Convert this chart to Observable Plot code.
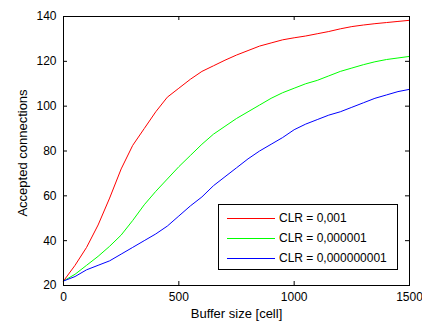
<!DOCTYPE html>
<html><head><meta charset="utf-8">
<script src="https://cdn.jsdelivr.net/npm/d3@7"></script>
<script src="https://cdn.jsdelivr.net/npm/@observablehq/plot@0.6"></script>
<style>
body{margin:0;background:#fff;font-family:"Liberation Sans",Arial,sans-serif;}
#wrap{position:relative;width:422px;height:322px;}
#legend{position:absolute;left:218px;top:204px;width:180px;height:66px;border:1px solid #000;background:#fff;box-sizing:border-box;font-size:12px;}
.item{position:absolute;left:0;height:14px;}
.item .ln{position:absolute;left:8px;width:48px;top:7px;height:1px;}
.item .tx{position:absolute;left:60px;top:0;white-space:nowrap;line-height:14px;color:#000;}
</style></head>
<body><div id="wrap"><div id="chart"></div><div id="legend"></div></div>
<script>
const bufferSize = [0,50,100,150,200,250,300,350,400,450,500,550,600,650,700,750,800,850,900,950,1000,1050,1100,1150,1200,1250,1300,1350,1400,1450,1500];
const clrRed   = [22,29,37,47,59,72,82.5,90,97.5,104,108,112,115.5,118,120.5,122.8,124.8,126.8,128.2,129.6,130.5,131.3,132.3,133.3,134.5,135.5,136.2,136.8,137.3,137.8,138.3];
const clrGreen = [22,25,29,33,37.5,42.5,49,56,62,67.5,73,78,83,87.5,91,94.5,97.5,100.5,103.5,106,108,110,111.5,113.5,115.5,117,118.5,119.8,120.8,121.5,122.2];
const clrBlue  = [22,24,27,29,31,34,37,40,43,46.5,51,55.5,59.5,64.5,68.5,72.5,76.5,80,83,86,89.5,92,94,96,97.5,99.5,101.5,103.5,105,106.5,107.5];
const seriesNames = ["CLR = 0,001","CLR = 0,000001","CLR = 0,000000001"];
const seriesColors = ["#ff0000","#00ff00","#0000ff"];
const xTicks = [0,500,1000,1500];
const yTicks = [20,40,60,80,100,120,140];

const allSeries = [clrRed, clrGreen, clrBlue];
const rows = [];
allSeries.forEach((vals, si) => vals.forEach((v, i) => rows.push({x: bufferSize[i], y: v, s: seriesNames[si]})));

const W = 422, H = 322, mt = 16, mr = 13, mb = 37, ml = 63;
const pw = W - ml - mr, ph = H - mt - mb;
const chart = Plot.plot({
  width: W, height: H,
  marginTop: mt, marginRight: mr, marginBottom: mb, marginLeft: ml,
  style: {fontFamily: '"Liberation Sans", Arial, sans-serif', fontSize: "12px", background: "#fff", color: "#000"},
  x: {domain: [0, 1500]},
  y: {domain: [20, 140]},
  color: {domain: seriesNames, range: seriesColors},
  marks: [
    Plot.line(rows, {x: "x", y: "y", z: "s", stroke: "s", strokeWidth: 1}),
    Plot.frame({stroke: "#000", strokeWidth: 1}),
    Plot.tickX(xTicks, {x: d => d, insetTop: ph - 4, stroke: "#000"}),
    Plot.tickX(xTicks, {x: d => d, insetBottom: ph - 4, stroke: "#000"}),
    Plot.tickY(yTicks, {y: d => d, insetRight: pw - 4, stroke: "#000"}),
    Plot.tickY(yTicks, {y: d => d, insetLeft: pw - 4, stroke: "#000"}),
    Plot.axisX(xTicks, {tickSize: 0, tickPadding: 7, label: null, fontSize: 12, tickFormat: d => String(d)}),
    Plot.axisY(yTicks, {tickSize: 0, tickPadding: 7, label: null, fontSize: 12, tickFormat: d => String(d)}),
    Plot.text(["Buffer size [cell]"], {frameAnchor: "bottom", dy: 28, text: d => d, fontSize: 13, lineAnchor: "middle", textAnchor: "middle"}),
    Plot.text(["Accepted connections"], {frameAnchor: "left", dx: -41, dy: 2, rotate: -90, text: d => d, fontSize: 13, textAnchor: "middle", lineAnchor: "middle"})
  ]
});
document.getElementById("chart").appendChild(chart);

const lg = document.getElementById("legend");
seriesNames.forEach((n, i) => {
  const it = document.createElement("div");
  it.className = "item";
  it.style.top = (6 + i * 20) + "px";
  it.style.width = "100%";
  it.innerHTML = `<div class="ln" style="background:${seriesColors[i]}"></div><div class="tx">${n}</div>`;
  lg.appendChild(it);
});
</script></body></html>
